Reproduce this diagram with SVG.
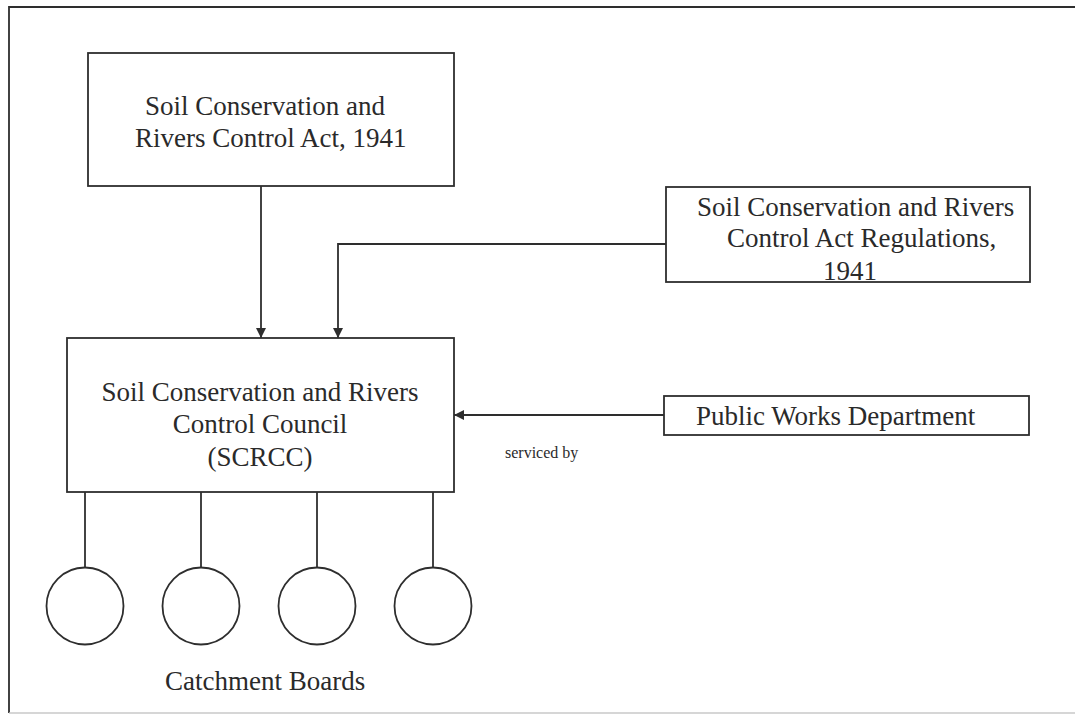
<svg xmlns="http://www.w3.org/2000/svg" width="1075" height="719" viewBox="0 0 1075 719">
  <style>
    .box { fill: #ffffff; stroke: #2e2e2e; stroke-width: 1.8; }
    .wire { fill: none; stroke: #2e2e2e; stroke-width: 1.8; }
    .lbl { font-family: "Liberation Serif", "Times New Roman", serif; font-size: 27px; fill: #2a2a2a; }
    .small { font-family: "Liberation Serif", "Times New Roman", serif; font-size: 16px; fill: #2a2a2a; }
  </style>
  <defs>
    <marker id="arrow" viewBox="0 0 10 10" refX="10" refY="5" markerWidth="10" markerHeight="10" markerUnits="userSpaceOnUse" orient="auto">
      <path d="M0,0 L10,5 L0,10 Z" fill="#2e2e2e"/>
    </marker>
  </defs>

  <rect width="1075" height="719" fill="#ffffff"/>

  <!-- page frame -->
  <g id="frame">
    <path class="wire" d="M1075,7 H9 V713"/>
    <line x1="9" y1="713" x2="1075" y2="713" stroke="#c8c8c8" stroke-width="1.5"/>
  </g>

  <!-- connectors -->
  <g id="connectors">
    <path class="wire" d="M261,186 V338" marker-end="url(#arrow)"/>
    <path class="wire" d="M666,244 H338 V338" marker-end="url(#arrow)"/>
    <path class="wire" d="M664,415 H454" marker-end="url(#arrow)"/>
    <line class="wire" x1="85" y1="492" x2="85" y2="568"/>
    <line class="wire" x1="201" y1="492" x2="201" y2="568"/>
    <line class="wire" x1="317" y1="492" x2="317" y2="568"/>
    <line class="wire" x1="433" y1="492" x2="433" y2="568"/>
    <text class="small" x="505" y="458">serviced by</text>
  </g>

  <g id="act">
    <rect class="box" x="88" y="53" width="366" height="133"/>
    <text class="lbl" x="145" y="115">Soil Conservation and</text>
    <text class="lbl" x="135" y="147">Rivers Control Act, 1941</text>
  </g>

  <g id="regulations">
    <rect class="box" x="666" y="187" width="364" height="95"/>
    <text class="lbl" x="697" y="216">Soil Conservation and Rivers</text>
    <text class="lbl" x="727" y="247">Control Act Regulations,</text>
    <text class="lbl" x="823" y="280">1941</text>
  </g>

  <g id="council">
    <rect class="box" x="67" y="338" width="387" height="154"/>
    <text class="lbl" x="260" y="401" text-anchor="middle">Soil Conservation and Rivers</text>
    <text class="lbl" x="260" y="433" text-anchor="middle">Control Council</text>
    <text class="lbl" x="260" y="466" text-anchor="middle">(SCRCC)</text>
  </g>

  <g id="pwd">
    <rect class="box" x="664" y="396" width="365" height="39"/>
    <text class="lbl" x="696" y="425">Public Works Department</text>
  </g>

  <g id="catchment-boards">
    <circle class="box" cx="85" cy="606" r="38.5"/>
    <circle class="box" cx="201" cy="606" r="38.5"/>
    <circle class="box" cx="317" cy="606" r="38.5"/>
    <circle class="box" cx="433" cy="606" r="38.5"/>
    <text class="lbl" x="165" y="690">Catchment Boards</text>
  </g>
</svg>
